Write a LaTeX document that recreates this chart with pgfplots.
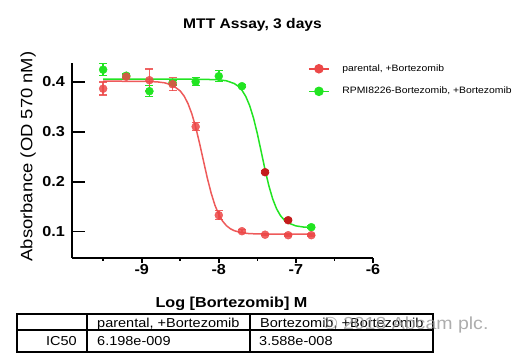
\documentclass[border=0pt]{standalone}
\usepackage{fontspec}
\setmainfont{Liberation Sans}[FakeStretch=1.12]
\usepackage{pgfplots}
\usepackage{pgfplotstable}
\pgfplotsset{compat=1.18}
\definecolor{pred}{RGB}{236,72,72}
\definecolor{pgreen}{RGB}{34,228,34}
\definecolor{dred}{RGB}{196,28,28}

% measured points: x = log[Bortezomib], y = absorbance, e = error
\pgfplotstableread{
x y e
-9.5 0.386 0.013
-9.2 0.410 0.004
-8.9 0.403 0.022
-8.6 0.395 0.013
-8.3 0.310 0.008
-8.0 0.133 0.009
-7.7 0.101 0.003
-7.4 0.094 0.002
-7.1 0.093 0.002
-6.8 0.093 0.002
}\redpts
\pgfplotstableread{
x y e
-9.5 0.424 0.012
-9.2 0.412 0.003
-8.9 0.381 0.011
-8.6 0.398 0.005
-8.3 0.400 0.008
-8.0 0.411 0.011
-7.7 0.391 0.003
-6.8 0.109 0.003
}\greenpts
\pgfplotstableread{
x y e
-7.4 0.219 0.003
-7.1 0.123 0.003
}\greendark
% fitted curves
\pgfplotstableread{
x y
-9.5 0.4010
-9.0 0.4008
-8.8 0.3997
-8.7 0.3977
-8.6 0.3929
-8.5 0.3815
-8.45 0.3713
-8.4 0.3564
-8.35 0.3359
-8.3 0.3092
-8.25 0.2772
-8.2 0.2424
-8.15 0.2081
-8.1 0.1776
-8.05 0.1529
-8.0 0.1343
-7.95 0.1210
-7.9 0.1119
-7.85 0.1059
-7.8 0.1020
-7.7 0.0978
-7.6 0.0961
-7.4 0.0952
-7.0 0.0950
-6.8 0.0950
}\redcurve
\pgfplotstableread{
x y
-9.5 0.4050
-8.5 0.4050
-8.2 0.4048
-8.0 0.4038
-7.9 0.4018
-7.8 0.3964
-7.75 0.3912
-7.7 0.3830
-7.65 0.3705
-7.6 0.3523
-7.55 0.3274
-7.5 0.2960
-7.45 0.2602
-7.4 0.2239
-7.35 0.1914
-7.3 0.1651
-7.25 0.1456
-7.2 0.1321
-7.15 0.1232
-7.1 0.1175
-7.0 0.1116
-6.9 0.1093
-6.8 0.1085
}\greencurve

\begin{document}
\begin{tikzpicture}
\useasboundingbox (0,0) rectangle (528bp,362bp);
\begin{axis}[
  at={(72bp,104bp)}, anchor=south west,
  scale only axis, width=301bp, height=195bp,
  xmin=-9.904, xmax=-6, ymin=0.0474, ymax=0.4374,
  axis lines=left, axis line style={-, line width=1.6bp},
  clip=false,
  xtick={-9,-8,-7,-6}, xticklabels={-9,-8,-7,-6},
  minor xtick={-9.5,-8.5,-7.5,-6.5},
  ytick={0.1,0.2,0.3,0.4}, yticklabels={0.1,0.2,0.3,0.4},
  tick align=outside,
  major tick length=5bp, minor tick length=3bp,
  every tick/.style={black, line width=1.6bp},
  every y tick/.style={draw=none},
  tick label style={font=\bfseries\fontsize{14.5}{14.5}\selectfont},
  yticklabel style={inner xsep=2bp},
  xticklabel style={inner ysep=1.5bp},
  title={MTT Assay, 3 days},
  title style={font=\bfseries\fontsize{14}{14}\selectfont, at={(axis description cs:0.5997,1)}, anchor=base, yshift=28.5bp},
  xlabel={Log [Bortezomib] M},
  xlabel style={font=\bfseries\fontsize{14.5}{14.5}\selectfont, at={(axis description cs:0.530,0)}, anchor=base, yshift=-49.7bp},
  ylabel={Absorbance (OD 570 nM)},
  ylabel style={font=\fontsize{16.5}{16.5}\selectfont, at={(axis description cs:-0.146,0.5205)}, anchor=center},
  legend style={at={(rel axis cs:0.784,0.997)}, anchor=north west, draw=none, fill=none,
    inner sep=0pt, column sep=12.7bp, row sep=12.6bp,
    font=\fontsize{9.3}{9.3}\selectfont,
    nodes={inner sep=0pt, text height=0.75em, text depth=0.25em}},
  legend cell align=left,
  legend image code/.code={\draw[mark repeat=2,mark phase=2,#1] plot coordinates {(0bp,0bp)(10bp,0bp)(20bp,0bp)};},
  errstyle/.style={error bars/.cd, y dir=both, y explicit,
    error bar style={line width=1.5bp},
    error mark options={rotate=90, line width=1.5bp, mark size=4bp}},
]
\addlegendimage{pred, line width=1.5bp, mark=*, mark size=4bp}
\addlegendentry{parental, +Bortezomib}
\addlegendimage{pgreen, line width=1.5bp, mark=*, mark size=4bp}
\addlegendentry{RPMI8226-Bortezomib, +Bortezomib}

\addplot[pgreen, line width=1.5bp, no marks, forget plot] table {\greencurve};
\addplot[only marks, mark=*, mark size=4bp, pgreen, forget plot, errstyle]
  table[y error=e] {\greenpts};
\addplot[only marks, mark=*, mark size=4bp, dred, forget plot, errstyle]
  table[y error=e] {\greendark};
\addplot[pred, line width=1.5bp, no marks, forget plot, opacity=0.9] table {\redcurve};
\addplot[only marks, mark=*, mark size=4bp, pred, forget plot, opacity=0.85, errstyle]
  table[y error=e] {\redpts};

\pgfplotsinvokeforeach{0.1,0.2,0.3,0.4}{
  \draw[black, line width=1.6bp] (axis cs:-9.904,#1) -- ([xshift=13bp]axis cs:-9.904,#1);
}
\end{axis}

% IC50 table
\begin{scope}[line width=1.3bp]
\draw (17bp,10bp) rectangle (433bp,48bp);
\draw (17bp,32bp) -- (433bp,32bp);
\draw (87bp,10bp) -- (87bp,48bp);
\draw (250bp,10bp) -- (250bp,48bp);
\end{scope}
\begin{scope}[every node/.style={font=\fontsize{13}{13}\selectfont, inner sep=0pt}]
\node[anchor=base west] at (97bp,34.3bp) {parental, +Bortezomib};
\node[anchor=base west] at (260bp,34.3bp) {Bortezomib, +Bortezomib};
\node[anchor=base east] at (77bp,16.3bp) {IC50};
\node[anchor=base west] at (97bp,16.3bp) {6.198e-009};
\node[anchor=base west] at (259bp,16.3bp) {3.588e-008};
\end{scope}
\node[anchor=base west, inner sep=0pt, text=black!40, opacity=0.8, font=\fontsize{17.5}{17.5}\selectfont] at (323bp,32.5bp) {© 2018 Abcam plc.};
\end{tikzpicture}
\end{document}
